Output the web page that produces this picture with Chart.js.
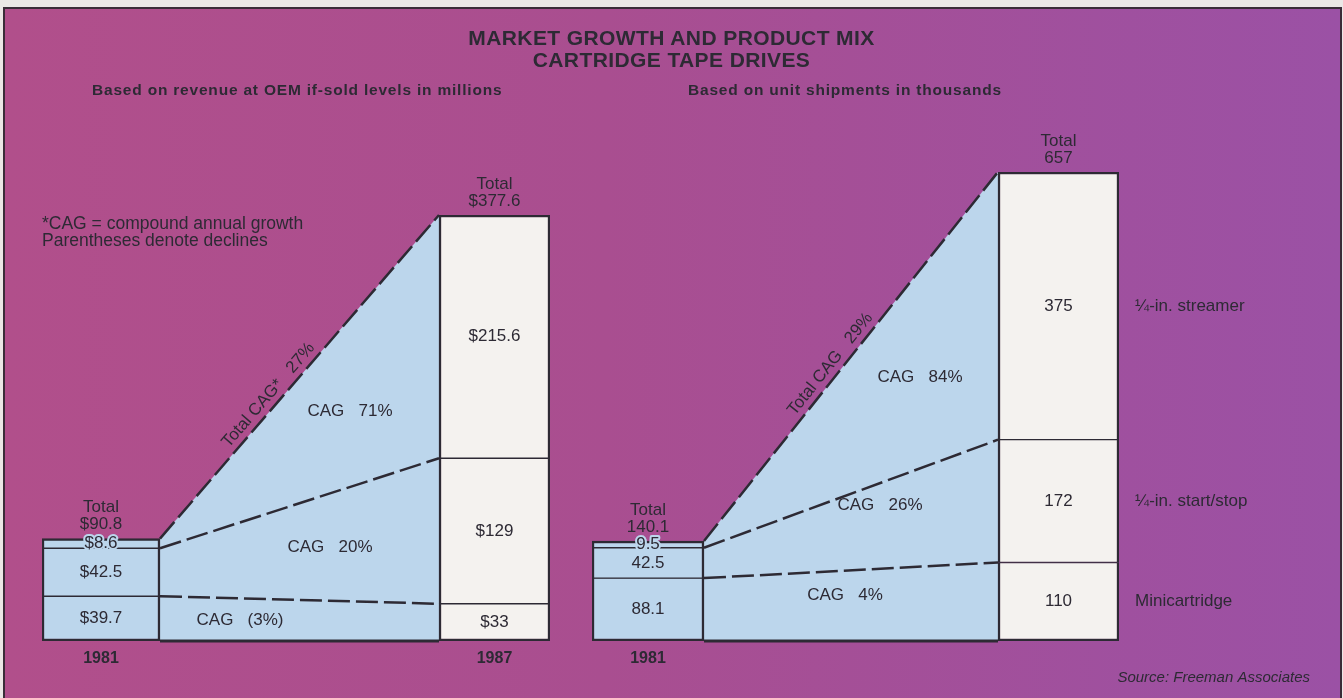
<!DOCTYPE html>
<html lang="en">

<head>
  <meta charset="UTF-8">
  <title>Market growth and product mix</title>
  <script src="https://cdn.jsdelivr.net/npm/chart.js@4.4.0/dist/chart.umd.min.js"></script>
  <style>
    body {
      margin: 0;
      background: #ebe7e6;
      font-family: "Liberation Sans", Arial, sans-serif;
      color: #2d2a34;
    }

    #board {
      position: absolute;
      left: 3px;
      top: 7px;
      width: 1335px;
      height: 700px;
      border: 2px solid #3a2c38;
      border-bottom: none;
      background: linear-gradient(90deg, #b14f8b 0%, #a94e90 45%, #9b51a5 100%);
    }

    canvas {
      position: absolute;
      left: 0;
      top: 0;
    }

    .title {
      position: absolute;
      top: 27px;
      left: 0;
      width: 1343px;
      text-align: center;
      font-weight: bold;
      font-size: 21px;
      letter-spacing: 0.4px;
      line-height: 22px;
    }

    .sub {
      position: absolute;
      top: 81px;
      font-weight: bold;
      font-size: 15.5px;
      letter-spacing: 0.8px;
      line-height: 18px;
    }
  </style>
</head>

<body>
  <div id="board"></div>
  <canvas id="revenueChart" width="1343" height="698"></canvas>
  <canvas id="unitChart" width="1343" height="698"></canvas>

  <div class="title">MARKET GROWTH AND PRODUCT MIX<br>CARTRIDGE TAPE DRIVES</div>
  <div class="sub" style="left:92px">Based on revenue at OEM if-sold levels in millions</div>
  <div class="sub" style="left:688px">Based on unit shipments in thousands</div>

  <script>
    // segments are listed bottom to top
    const segments = ["Minicartridge", "¼-in. start/stop", "¼-in. streamer"];
    const years = ["1981", "1987"];

    const revenue1981 = [39.7, 42.5, 8.6];
    const revenue1987 = [33, 129, 215.6];
    const revenueCAG = ["(3%)", "20%", "71%"];
    const revenueTotalCAG = "27%";

    const units1981 = [88.1, 42.5, 9.5];
    const units1987 = [110, 172, 375];
    const unitCAG = ["4%", "26%", "84%"];
    const unitTotalCAG = "29%";

    const INK = "#2d2a34";
    const BLUE = "#bcd6ec";
    const PAPER = "#f4f2ef";
    const FONT = '"Liberation Sans", Arial, sans-serif';

    function stack(values) {
      let acc = 0;
      return values.map(v => {
        const r = [acc, acc + v];
        acc += v;
        return r;
      });
    }

    function sum(values) {
      return Math.round(values.reduce((a, b) => a + b, 0) * 10) / 10;
    }

    function makePanel(id, cfg) {
      const lo = stack(cfg.start);
      const hi = stack(cfg.end);
      const total81 = sum(cfg.start);
      const total87 = sum(cfg.end);
      const [a0, a1] = cfg.layout.bar81;
      const [b0, b1] = cfg.layout.bar87;
      const n = segments.length;

      const barSet = (ranges, x0, x1, fill) => ({
        type: "bar",
        data: ranges.map(r => ({ x: (x0 + x1) / 2, y: r })),
        barThickness: x1 - x0,
        grouped: false,
        backgroundColor: fill,
        borderColor: INK,
        borderWidth: c => ({
          left: 2.5,
          right: 2.5,
          top: c.dataIndex === n - 1 ? 2.5 : 1,
          bottom: c.dataIndex === 0 ? 2.5 : 1
        }),
        borderSkipped: false,
        order: 0
      });

      const lineSet = (y0, y1, extra) => Object.assign({
        type: "line",
        data: [{ x: a1, y: y0 }, { x: b0, y: y1 }],
        borderColor: INK,
        borderWidth: 2.5,
        borderDash: [22, 6],
        pointRadius: 0,
        fill: false,
        clip: false,
        order: 1
      }, extra);

      const datasets = [
        lineSet(total81, total87, { fill: "origin", backgroundColor: BLUE, order: 3 }),
        lineSet(0, 0, { borderDash: [], borderWidth: 3 })
      ];
      for (let i = 0; i < n - 1; i++) {
        datasets.push(lineSet(lo[i][1], hi[i][1]));
      }
      datasets.push(barSet(lo, a0, a1, BLUE));
      datasets.push(barSet(hi, b0, b1, PAPER));

      const draw = chart => {
        const ctx = chart.ctx;
        const xs = chart.scales.x;
        const ys = chart.scales.y;
        const area = chart.chartArea;
        const px = v => xs.getPixelForValue(v);
        const py = v => ys.getPixelForValue(v);

        ctx.save();
        ctx.fillStyle = INK;
        ctx.textAlign = "center";
        ctx.textBaseline = "middle";
        ctx.lineJoin = "round";

        // values inside each bar segment
        ctx.font = "17px " + FONT;
        [[lo, cfg.start, a0, a1, BLUE], [hi, cfg.end, b0, b1, PAPER]].forEach(([ranges, vals, x0, x1, fill]) => {
          ranges.forEach((r, i) => {
            const x = px((x0 + x1) / 2);
            const y = py((r[0] + r[1]) / 2);
            const t = cfg.prefix + vals[i];
            ctx.strokeStyle = fill;
            ctx.lineWidth = 4;
            ctx.strokeText(t, x, y);
            ctx.fillText(t, x, y);
          });
        });

        // totals above the bars
        [[total81, a0, a1], [total87, b0, b1]].forEach(([tot, x0, x1]) => {
          const x = px((x0 + x1) / 2);
          const top = py(tot);
          ctx.fillText("Total", x, top - 31);
          ctx.fillText(cfg.prefix + tot, x, top - 14);
        });

        // growth rate inside each band
        cfg.cag.forEach((t, i) => {
          const p = cfg.cagPos[i];
          ctx.fillText("CAG   " + t, px(p[0]), py(p[1]));
        });

        // total growth along the upper line
        const x1p = px(a1), y1p = py(total81), x2p = px(b0), y2p = py(total87);
        const f = cfg.totalAt;
        ctx.save();
        ctx.translate(x1p + f * (x2p - x1p), y1p + f * (y2p - y1p));
        ctx.rotate(Math.atan2(y2p - y1p, x2p - x1p));
        ctx.textBaseline = "bottom";
        ctx.fillText(cfg.totalLabel, 0, -3);
        ctx.restore();

        // year labels under the bars
        ctx.font = "bold 16px " + FONT;
        [[a0, a1], [b0, b1]].forEach(([x0, x1], i) => {
          if (cfg.showYears[i]) ctx.fillText(years[i], px((x0 + x1) / 2), area.bottom + 18);
        });

        // segment names beside the 1987 bar
        if (cfg.legend) {
          ctx.font = "17px " + FONT;
          ctx.textAlign = "left";
          hi.forEach((r, i) => ctx.fillText(segments[i], px(b1) + 16, py((r[0] + r[1]) / 2)));
        }

        if (cfg.notes) {
          ctx.font = "17.5px " + FONT;
          ctx.textAlign = "left";
          cfg.notes.forEach((t, i) => ctx.fillText(t, area.left, area.top + 9 + i * 17));
        }

        if (cfg.source) {
          ctx.font = "italic 15px " + FONT;
          ctx.textAlign = "right";
          ctx.fillText(cfg.source, chart.width - 33, chart.height - 20);
        }
        ctx.restore();
      };

      return new Chart(id, {
        type: "bar",
        data: { datasets: datasets },
        options: {
          responsive: false,
          animation: false,
          events: [],
          layout: { padding: cfg.padding },
          plugins: {
            legend: { display: false },
            tooltip: { enabled: false },
            title: { display: false }
          },
          scales: {
            x: { type: "linear", offset: false, min: 0, max: b1, display: false },
            y: { type: "linear", min: 0, max: total87, display: false }
          }
        },
        plugins: [{ id: "panelText", afterDatasetsDraw: draw }]
      });
    }

    makePanel("revenueChart", {
      start: revenue1981,
      end: revenue1987,
      cag: revenueCAG,
      prefix: "$",
      totalLabel: "Total CAG*   " + revenueTotalCAG,
      totalAt: 0.42,
      layout: { bar81: [0, 118], bar87: [397, 508] },
      padding: { left: 42, right: 793, top: 215, bottom: 57 },
      cagPos: [[198, 18.6], [288, 83.3], [308, 204]],
      showYears: [true, true],
      notes: ["*CAG = compound annual growth", "Parentheses denote declines"]
    });

    makePanel("unitChart", {
      start: units1981,
      end: units1987,
      cag: unitCAG,
      prefix: "",
      totalLabel: "Total CAG   " + unitTotalCAG,
      totalAt: 0.46,
      layout: { bar81: [0, 112], bar87: [406, 527] },
      padding: { left: 592, right: 224, top: 172, bottom: 57 },
      cagPos: [[253, 64], [288, 190], [328, 370]],
      showYears: [true, false],
      legend: true,
      source: "Source: Freeman Associates"
    });
  </script>
</body>

</html>
